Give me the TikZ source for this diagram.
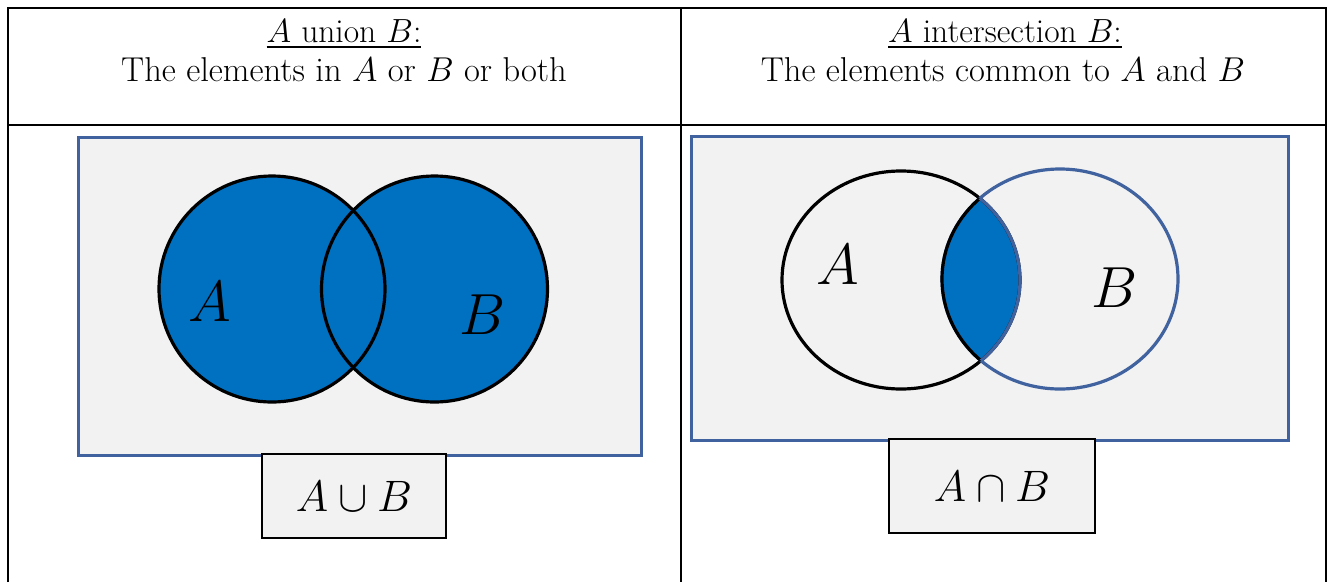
\RequirePackage{fix-cm}
\documentclass[tikz,border=0pt]{standalone}
\usepackage{amssymb, amsmath}
\usepackage{tikz}
\usetikzlibrary{shapes}
\definecolor{setfill}{RGB}{0, 112, 192}
\definecolor{frame}{RGB}{64, 98, 158}
\definecolor{light}{RGB}{242, 242, 242}
\newcommand*{\vennr}{113}

\begin{document}
\begin{tikzpicture}[
   x=1pt, y=-1pt,
   rule/.style={draw=black, line width=2.5},
   hair/.style={draw=black, line width=1.2},
   panel/.style={draw=frame, fill=light, line width=3},
   ring/.style={draw=black, line width=3.2},
   letter/.style={inner sep=0, font=\fontsize{58}{58}\selectfont},
   tag/.style={rectangle, draw=black, fill=light, line width=2.5, inner sep=0,
               font=\fontsize{44}{44}\selectfont},
   title/.style={anchor=base, inner sep=0, font=\fontsize{33.5}{38}\selectfont},
   caption/.style={anchor=base, inner sep=0, font=\fontsize{34.5}{38}\selectfont}
  ]

  \useasboundingbox (0, 0) rectangle (1333, 582);

  % Table
  \draw[rule] (8, 582) -- (8, 8) -- (1326, 8) -- (1326, 582);
  \draw[hair] (681, 8) -- (681, 582);
  \draw[rule] (681, 542) -- (681, 582);
  \draw[hair] (8, 125) -- (1326, 125);
  \draw[rule] (8, 125) -- (70, 125);
  \draw[rule] (1303, 125) -- (1326, 125);

  % Headers
  \node[title] (headU) at (344, 42) {\underline{$A$ union $B$:}};
  \node[caption] (subU) at (344, 81) {The elements in $A$ or $B$ or both};
  \node[title] (headI) at (1005, 42) {\underline{$A$ intersection $B$:}};
  \node[caption] (subI) at (1003, 81) {The elements common to $A$ and $B$};

  % Union
  \draw[panel] (78, 137) rectangle (641, 455);
  \foreach \cx in {272, 434.5} {
    \fill[setfill] (\cx, 289) circle [radius=\vennr];
  }
  \foreach \cx in {272, 434.5} {
    \draw[ring] (\cx, 289) circle [radius=\vennr];
  }
  \node[letter] (uA) at (210, 302) {$A$};
  \node[letter] (uB) at (483, 315) {$B$};
  \node[tag, minimum width=184, minimum height=84] (uTag) at (354, 496) {$A \cup B$};

  % Intersection
  \draw[panel] (691, 136) rectangle (1288, 440);
  \begin{scope}
    \clip (901, 280) ellipse [x radius=119, y radius=109];
    \fill[setfill] (1060, 279) ellipse [x radius=118, y radius=110];
  \end{scope}
  \draw[ring] (901, 280) ellipse [x radius=119, y radius=109];
  \draw[ring, draw=frame] (1060, 279) ellipse [x radius=118, y radius=110];
  \begin{scope}
    \clip (901, 280) ellipse [x radius=119, y radius=109];
    \draw[ring] (1060, 279) ellipse [x radius=118, y radius=110];
  \end{scope}
  \begin{scope}
    \clip (1060, 279) ellipse [x radius=118, y radius=110];
    \draw[ring, draw=frame] (901, 280) ellipse [x radius=119, y radius=109];
  \end{scope}
  \node[letter] (iA) at (838, 265) {$A$};
  \node[letter] (iB) at (1115, 288) {$B$};
  \node[tag, minimum width=206, minimum height=94] (iTag) at (992, 486) {$A \cap B$};

\end{tikzpicture}
\end{document}
